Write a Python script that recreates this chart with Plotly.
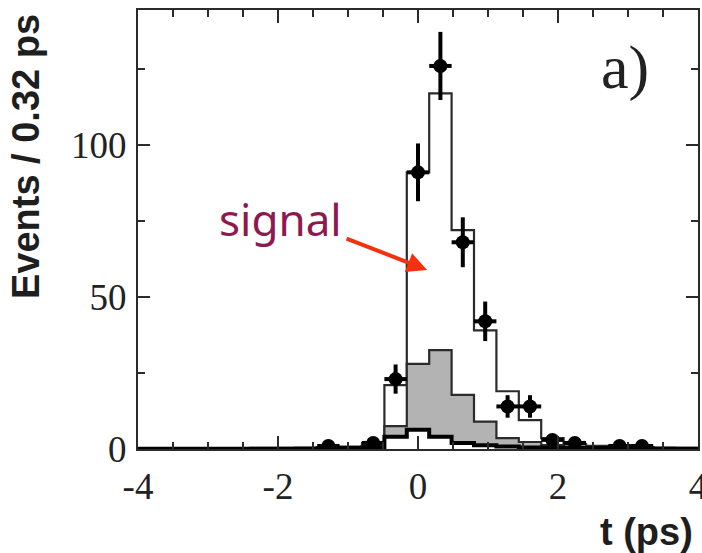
import plotly.graph_objects as go
import numpy as np

# ---- data ----
bin_centers = [-3.84, -3.52, -3.20, -2.88, -2.56, -2.24, -1.92, -1.60, -1.28, -0.96,
               -0.64, -0.32, 0.00, 0.32, 0.64, 0.96, 1.28, 1.60, 1.92, 2.24,
               2.56, 2.88, 3.20, 3.52, 3.84]
bin_width = 0.32

# black-outlined lowest background component
bkg_black = [0.1, 0.1, 0.1, 0.1, 0.1, 0.1, 0.1, 0.1, 0.2, 0.3,
             0.5, 4.0, 6.3, 4.0, 2.0, 1.2, 0.8, 0.5, 0.4, 0.3,
             0.3, 0.2, 0.2, 0.1, 0.1]
# grey-filled background component (stacked on top of the black one)
bkg_gray = [0.1, 0.1, 0.1, 0.1, 0.1, 0.1, 0.1, 0.2, 0.2, 0.3,
            0.5, 3.5, 21.7, 28.5, 15.8, 7.8, 2.8, 1.8, 0.9, 0.5,
            0.3, 0.3, 0.2, 0.2, 0.1]
# signal component (white, stacked on top)
signal = [0.1, 0.1, 0.1, 0.1, 0.1, 0.2, 0.2, 0.2, 0.2, 0.2,
          1.0, 13.5, 63.0, 84.5, 54.2, 30.0, 15.4, 7.2, 2.3, 0.8,
          0.4, 0.3, 0.2, 0.2, 0.2]

# data points
data_t = [-1.28, -0.64, -0.32, 0.00, 0.32, 0.64, 0.96, 1.28, 1.60, 1.92, 2.24, 2.88, 3.20]
data_n = [1, 2, 23, 91, 126, 68, 42, 14, 14, 3, 2, 1, 1]
data_err = [1.0, 1.4, 4.8, 9.5, 11.2, 8.2, 6.5, 3.7, 3.7, 1.7, 1.4, 1.0, 1.0]

x_tick_vals = [-4, -2, 0, 2, 4]
x_tick_text = ["-4", "-2", "0", "2", "4"]
x_minor_vals = [-3.5, -3, -2.5, -1.5, -1, -0.5, 0.5, 1, 1.5, 2.5, 3, 3.5]
y_tick_vals = [0, 50, 100]
y_tick_text = ["0", "50", "100"]
y_minor_vals = [25, 75, 125]

# ---- helpers ----
centers = np.array(bin_centers)
edges = np.append(centers - bin_width / 2, centers[-1] + bin_width / 2)

def step(vals):
    v = list(vals)
    return v + [v[-1]]

lvl_black = np.array(bkg_black)
lvl_gray = lvl_black + np.array(bkg_gray)
lvl_total = lvl_gray + np.array(signal)

LINE = "#2b2b2b"
fig = go.Figure()

fig.add_trace(go.Scatter(x=edges, y=step(lvl_total), mode="lines",
                         line=dict(color=LINE, width=2.2, shape="hv"),
                         fill="tozeroy", fillcolor="white", showlegend=False))
fig.add_trace(go.Scatter(x=edges, y=step(lvl_gray), mode="lines",
                         line=dict(color=LINE, width=2.2, shape="hv"),
                         fill="tozeroy", fillcolor="#b3b3b3", showlegend=False))
fig.add_trace(go.Scatter(x=edges, y=step(lvl_black), mode="lines",
                         line=dict(color="black", width=4, shape="hv"),
                         fill="tozeroy", fillcolor="white", showlegend=False))
fig.add_trace(go.Scatter(x=data_t, y=data_n, mode="markers",
                         marker=dict(color="black", size=14, symbol="circle"),
                         error_y=dict(type="data", array=data_err, visible=True,
                                      thickness=4, width=0, color="black"),
                         error_x=dict(type="constant", value=bin_width / 2, visible=True,
                                      thickness=4, width=0, color="black"),
                         showlegend=False))

axis_common = dict(showgrid=False, zeroline=False, showline=True, linecolor=LINE,
                   linewidth=2, mirror="ticks", ticks="inside", tickwidth=2,
                   tickcolor=LINE, automargin=False, ticklabeloverflow="allow",
                   tickfont=dict(family="Liberation Serif", size=37, color="#222"))

fig.update_xaxes(range=[-4, 4], tickmode="array", tickvals=x_tick_vals,
                 ticktext=x_tick_text, ticklen=13, ticklabelstandoff=4,
                 minor=dict(tickmode="array", tickvals=x_minor_vals, ticks="inside",
                            ticklen=7, tickwidth=2, tickcolor=LINE),
                 **axis_common)
fig.update_yaxes(range=[0, 144.4], tickmode="array", tickvals=y_tick_vals,
                 ticktext=y_tick_text, ticklen=12, ticklabelstandoff=2,
                 minor=dict(tickmode="array", tickvals=y_minor_vals, ticks="inside",
                            ticklen=7, tickwidth=2, tickcolor=LINE),
                 **axis_common)

annotations = [
    dict(text="Events / 0.32 ps", xref="paper", yref="paper", x=-0.20, y=0.665,
         textangle=-90, showarrow=False, xanchor="center", yanchor="middle",
         font=dict(family="Liberation Sans", size=38, color="#1e1e1e", weight="bold")),
    dict(text="t (ps)", xref="paper", yref="paper", x=0.995, y=-0.189,
         showarrow=False, xanchor="right", yanchor="middle",
         font=dict(family="Liberation Sans", size=38, color="#1e1e1e", weight="bold")),
    dict(text="a)", xref="x", yref="y", x=2.96, y=125.5, showarrow=False,
         xanchor="center", yanchor="middle",
         font=dict(family="Liberation Serif", size=62, color="#222")),
    dict(text="signal", xref="x", yref="y", x=-1.96, y=75.5, showarrow=False,
         xanchor="center", yanchor="middle",
         font=dict(family="Noto Sans", size=44, color="#8c1a50")),
    dict(text="", xref="x", yref="y", x=0.13, y=58.9, ax=-82, ay=-32,
         showarrow=True, arrowhead=2, arrowsize=1, arrowwidth=4,
         arrowcolor="#f5300f", standoff=0, startstandoff=0),
]

fig.update_layout(width=702, height=553,
                  margin=dict(l=138, r=4, t=10, b=104),
                  paper_bgcolor="white", plot_bgcolor="white",
                  annotations=annotations, showlegend=False)

fig.write_html("out.html", config={"displayModeBar": False},
               post_script="document.body.style.margin='0';document.body.style.overflow='hidden';")
